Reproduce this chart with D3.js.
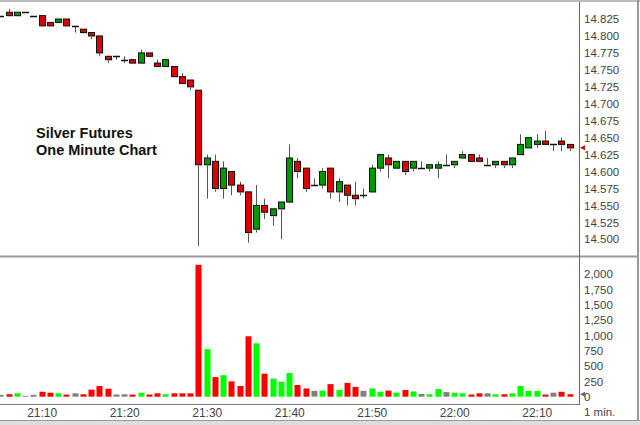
<!DOCTYPE html>
<html>
<head>
<meta charset="utf-8">
<script src="https://cdn.jsdelivr.net/npm/d3@7/dist/d3.min.js"></script>
<style>
  body { margin: 0; background: #fff; }
  svg { display: block; }
  .axis text { font-family: "Liberation Sans", Arial, sans-serif; fill: #444; }
</style>
</head>
<body>
<svg id="chart"></svg>
<script>
// one minute bars, 21:05 .. 22:14
let open = [14.830, 14.835, 14.830, 14.835, 14.830, 14.830, 14.820, 14.820, 14.825, 14.815,
    14.810, 14.805, 14.800, 14.770, 14.770, 14.765, 14.765, 14.760, 14.775, 14.760,
    14.755, 14.755, 14.740, 14.735, 14.720, 14.610, 14.615, 14.575, 14.600, 14.580,
    14.570, 14.515, 14.550, 14.535, 14.545, 14.555, 14.615, 14.605, 14.580, 14.580,
    14.605, 14.570, 14.580, 14.565, 14.565, 14.570, 14.605, 14.620, 14.605, 14.615,
    14.605, 14.605, 14.605, 14.605, 14.610, 14.610, 14.620, 14.625, 14.620, 14.610,
    14.610, 14.615, 14.610, 14.625, 14.635, 14.640, 14.645, 14.640, 14.645, 14.640];
let high = [14.830, 14.840, 14.835, 14.835, 14.830, 14.830, 14.820, 14.825, 14.825, 14.815,
    14.810, 14.805, 14.800, 14.770, 14.770, 14.770, 14.765, 14.780, 14.775, 14.765,
    14.765, 14.755, 14.745, 14.735, 14.720, 14.625, 14.625, 14.615, 14.600, 14.585,
    14.570, 14.580, 14.560, 14.545, 14.555, 14.640, 14.620, 14.605, 14.590, 14.605,
    14.605, 14.590, 14.580, 14.585, 14.575, 14.610, 14.625, 14.625, 14.615, 14.615,
    14.615, 14.615, 14.610, 14.615, 14.625, 14.615, 14.630, 14.625, 14.625, 14.620,
    14.615, 14.615, 14.620, 14.655, 14.650, 14.655, 14.660, 14.640, 14.650, 14.640];
let low = [14.830, 14.830, 14.830, 14.835, 14.830, 14.815, 14.815, 14.820, 14.815, 14.805,
    14.805, 14.795, 14.770, 14.760, 14.765, 14.760, 14.760, 14.760, 14.770, 14.755,
    14.755, 14.740, 14.730, 14.720, 14.490, 14.560, 14.570, 14.560, 14.565, 14.565,
    14.495, 14.510, 14.530, 14.520, 14.500, 14.555, 14.590, 14.570, 14.580, 14.575,
    14.560, 14.555, 14.550, 14.550, 14.560, 14.570, 14.600, 14.590, 14.605, 14.595,
    14.600, 14.605, 14.600, 14.590, 14.610, 14.605, 14.620, 14.615, 14.615, 14.610,
    14.605, 14.605, 14.605, 14.625, 14.635, 14.635, 14.640, 14.630, 14.630, 14.630];
let close = [14.830, 14.830, 14.835, 14.835, 14.830, 14.815, 14.815, 14.825, 14.815, 14.815,
    14.805, 14.800, 14.775, 14.765, 14.770, 14.765, 14.760, 14.775, 14.770, 14.755,
    14.765, 14.740, 14.730, 14.725, 14.610, 14.620, 14.575, 14.605, 14.580, 14.570,
    14.510, 14.550, 14.540, 14.545, 14.555, 14.620, 14.600, 14.575, 14.580, 14.600,
    14.570, 14.585, 14.565, 14.560, 14.565, 14.605, 14.625, 14.610, 14.615, 14.600,
    14.615, 14.605, 14.610, 14.610, 14.610, 14.615, 14.625, 14.615, 14.615, 14.610,
    14.615, 14.610, 14.620, 14.640, 14.650, 14.645, 14.640, 14.640, 14.640, 14.635];
let volume = [30, 40, 55, 15, 30, 80, 65, 55, 35, 55,
    40, 115, 175, 130, 35, 40, 35, 65, 35, 55,
    40, 55, 55, 55, 2150, 775, 320, 350, 250, 175,
    985, 870, 375, 295, 245, 385, 190, 135, 95, 100,
    205, 110, 225, 160, 95, 135, 80, 100, 65, 110,
    85, 45, 40, 125, 75, 65, 55, 35, 55, 55,
    40, 40, 55, 175, 95, 95, 35, 65, 80, 40];

let priceTicks = d3.range(14.500, 14.8251, 0.025);
let volumeTicks = d3.range(0, 2001, 250);
let title = ["Silver Futures", "One Minute Chart"];

let width = 640,
    height = 425,
    plotRight = 579;

let startTime = new Date(2000, 0, 1, 21, 5);
let bars = open.map((o, i) => ({
    time: d3.timeMinute.offset(startTime, i),
    open: o, high: high[i], low: low[i], close: close[i], volume: volume[i]
}));

let x = d3.scaleTime()
    .domain([startTime, new Date(2000, 0, 1, 22, 15)])
    .range([0.45, 578]);

let yPrice = d3.scaleLinear()
    .domain([14.500, 14.825])
    .range([239.3, 19]);

let yVol = d3.scaleLinear()
    .domain([0, 2000])
    .range([396.7, 274]);

let bodyW = 6;

let svg = d3.select("#chart")
    .attr("width", width)
    .attr("height", height);

svg.append("defs").append("clipPath").attr("id", "plotclip")
    .append("rect").attr("x", 0).attr("y", 0).attr("width", plotRight).attr("height", 404);

// frame
svg.append("line").attr("x1", 0).attr("x2", width).attr("y1", 1).attr("y2", 1)
    .attr("stroke", "#bbb").attr("stroke-width", 2);
svg.append("line").attr("x1", 0).attr("x2", 638).attr("y1", 256.5).attr("y2", 256.5)
    .attr("stroke", "#999").attr("stroke-width", 2);
svg.append("line").attr("x1", 0).attr("x2", plotRight).attr("y1", 404.5).attr("y2", 404.5)
    .attr("stroke", "#777");
svg.append("line").attr("x1", plotRight + 0.5).attr("x2", plotRight + 0.5).attr("y1", 2).attr("y2", 405)
    .attr("stroke", "#666");
svg.append("line").attr("x1", 638).attr("x2", 638).attr("y1", 0).attr("y2", 421)
    .attr("stroke", "#999").attr("stroke-width", 2);
svg.append("rect").attr("x", 0).attr("y", 420).attr("width", width).attr("height", 5)
    .attr("fill", "#ddd");
svg.append("line").attr("x1", 0).attr("x2", width).attr("y1", 420.5).attr("y2", 420.5)
    .attr("stroke", "#999");

let plot = svg.append("g").attr("clip-path", "url(#plotclip)");

// candles
let candle = plot.selectAll(".candle")
    .data(bars)
    .enter().append("g")
    .attr("class", "candle");

candle.append("line")
    .attr("x1", d => Math.round(x(d.time)) + 0.5)
    .attr("x2", d => Math.round(x(d.time)) + 0.5)
    .attr("y1", d => yPrice(d.high))
    .attr("y2", d => yPrice(d.low))
    .attr("stroke", "#555");

candle.filter(d => d.open !== d.close).append("rect")
    .attr("x", d => Math.round(x(d.time)) - bodyW / 2 + 1.5)
    .attr("y", d => yPrice(Math.max(d.open, d.close)) + 1)
    .attr("width", bodyW)
    .attr("height", d => Math.abs(yPrice(d.open) - yPrice(d.close)))
    .attr("fill", "#ccc");

candle.filter(d => d.open !== d.close).append("rect")
    .attr("x", d => Math.round(x(d.time)) - bodyW / 2 + 0.5)
    .attr("y", d => yPrice(Math.max(d.open, d.close)))
    .attr("width", bodyW)
    .attr("height", d => Math.abs(yPrice(d.open) - yPrice(d.close)))
    .attr("fill", d => d.close > d.open ? "#009900" : "#dd0000")
    .attr("stroke", "#111");

candle.filter(d => d.open === d.close).append("line")
    .attr("x1", d => Math.round(x(d.time)) - bodyW / 2)
    .attr("x2", d => Math.round(x(d.time)) + bodyW / 2 + 1)
    .attr("y1", d => Math.round(yPrice(d.close)) + 0.5)
    .attr("y2", d => Math.round(yPrice(d.close)) + 0.5)
    .attr("stroke", "#111")
    .attr("stroke-width", 1.5);

// volume bars
plot.selectAll(".vol")
    .data(bars)
    .enter().append("rect")
    .attr("class", "vol")
    .attr("x", d => Math.round(x(d.time)) - bodyW / 2 + 0.5)
    .attr("y", d => yVol(d.volume))
    .attr("width", bodyW)
    .attr("height", d => yVol(0) - yVol(d.volume))
    .attr("fill", d => d.close > d.open ? "#00ff00" : (d.close < d.open ? "#ff0000" : "#808080"));

// axes
let priceAxis = svg.append("g")
    .attr("class", "axis")
    .attr("transform", "translate(" + plotRight + ",0)")
    .call(d3.axisRight(yPrice).tickValues(priceTicks).tickFormat(d3.format(".3f")).tickSize(0).tickPadding(5));

let volAxis = svg.append("g")
    .attr("class", "axis")
    .attr("transform", "translate(" + plotRight + ",0)")
    .call(d3.axisRight(yVol).tickValues(volumeTicks).tickFormat(d3.format(",")).tickSize(0).tickPadding(5));

let timeAxis = svg.append("g")
    .attr("class", "axis")
    .attr("transform", "translate(0,404)")
    .call(d3.axisBottom(x).ticks(d3.timeMinute.every(10)).tickFormat(d3.timeFormat("%H:%M")).tickSize(0).tickPadding(4));

[priceAxis, volAxis, timeAxis].forEach(a => {
    a.select(".domain").remove();
    a.selectAll("text").attr("font-size", 12);
});
priceAxis.selectAll("text").attr("font-size", 11.5);
volAxis.selectAll("text").attr("font-size", 11.5);

svg.append("text")
    .attr("class", "axis")
    .attr("x", 584)
    .attr("y", 416)
    .attr("font-family", "Liberation Sans, Arial, sans-serif")
    .attr("font-size", 11.5)
    .attr("fill", "#444")
    .text("1 min.");

// last value markers
let last = bars[bars.length - 1];
let yl = yPrice(last.close);
svg.append("path")
    .attr("d", "M" + (plotRight + 1) + "," + yl + "l5,-2.5v5z")
    .attr("fill", "#dd0000");
let yv = yVol(last.volume);
svg.append("path")
    .attr("d", "M" + (plotRight + 1) + "," + yv + "l5,-2.5v5z")
    .attr("fill", "#666");

// title
svg.append("text")
    .attr("x", 36)
    .attr("y", 138)
    .attr("font-family", "Liberation Sans, Arial, sans-serif")
    .attr("font-weight", "bold")
    .attr("font-size", 14.5)
    .attr("fill", "#111")
    .selectAll("tspan")
    .data(title)
    .enter().append("tspan")
    .attr("x", 36)
    .attr("dy", (d, i) => i ? 17 : 0)
    .text(d => d);
</script>
</body>
</html>
